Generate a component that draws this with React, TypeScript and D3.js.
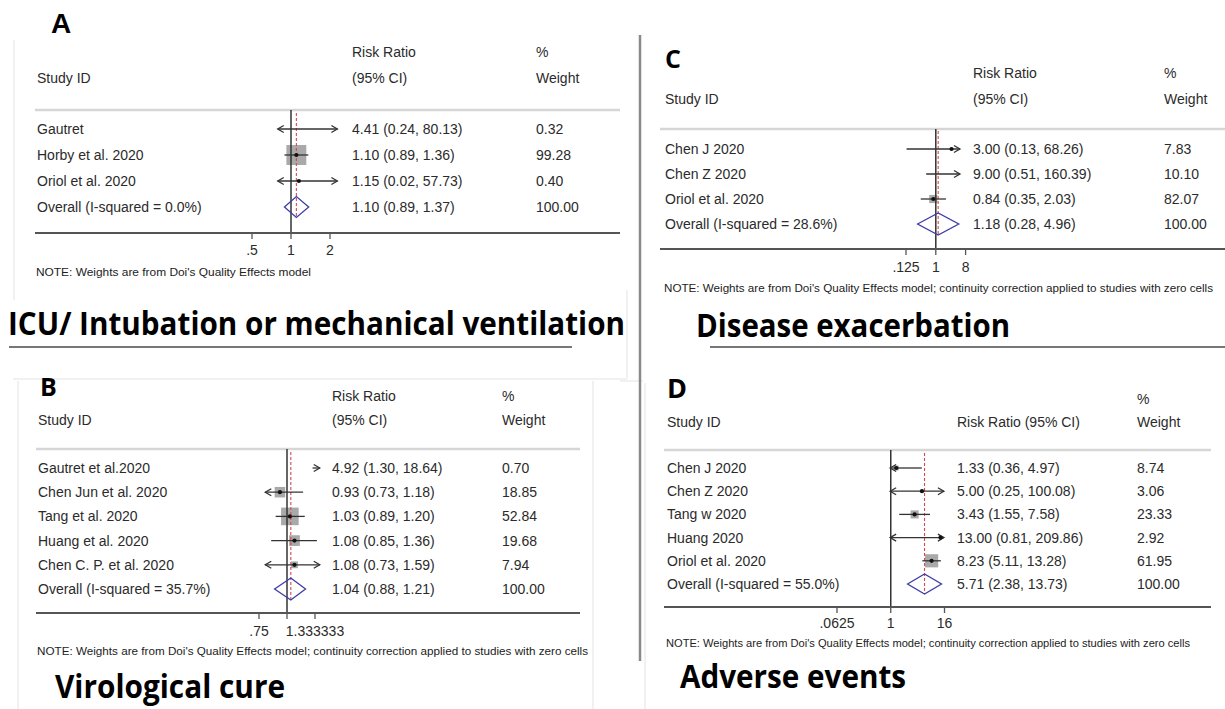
import React from "react";
import * as d3 from "d3";

// ---------- Panel A : ICU / intubation ----------
const studiesA = ["Gautret", "Horby et al. 2020", "Oriol et al. 2020"];
const rrA = [4.41, 1.1, 1.15];
const lowA = [0.24, 0.89, 0.02];
const highA = [80.13, 1.36, 57.73];
const weightA = [0.32, 99.28, 0.4];
const overallA = [1.1, 0.89, 1.37];
const overallLabelA = "Overall (I-squared = 0.0%)";
const ticksA = [0.5, 1, 2];
const tickLabelsA = [".5", "1", "2"];
const clipA = [0.79, 2.28];

// ---------- Panel B : virological cure ----------
const studiesB = ["Gautret et al.2020", "Chen Jun et al. 2020", "Tang et al. 2020", "Huang et al. 2020", "Chen C. P. et al. 2020"];
const rrB = [4.92, 0.93, 1.03, 1.08, 1.08];
const lowB = [1.3, 0.73, 0.89, 0.85, 0.73];
const highB = [18.64, 1.18, 1.2, 1.36, 1.59];
const weightB = [0.7, 18.85, 52.84, 19.68, 7.94];
const overallB = [1.04, 0.88, 1.21];
const overallLabelB = "Overall (I-squared = 35.7%)";
const ticksB = [0.75, 1, 1.333333];
const tickLabelsB = [".75", "", "1.333333"];
const clipB = [0.8, 1.4];

// ---------- Panel C : disease exacerbation ----------
const studiesC = ["Chen J 2020", "Chen Z 2020", "Oriol et al. 2020"];
const rrC = [3.0, 9.0, 0.84];
const lowC = [0.13, 0.51, 0.35];
const highC = [68.26, 160.39, 2.03];
const weightC = [7.83, 10.1, 82.07];
const overallC = [1.18, 0.28, 4.96];
const overallLabelC = "Overall (I-squared = 28.6%)";
const ticksC = [0.125, 1, 8];
const tickLabelsC = [".125", "1", "8"];
const clipC = [0.11, 5.4];

// ---------- Panel D : adverse events ----------
const studiesD = ["Chen J 2020", "Chen Z 2020", "Tang w 2020", "Huang 2020", "Oriol et al. 2020"];
const rrD = [1.33, 5.0, 3.43, 13.0, 8.23];
const lowD = [0.36, 0.25, 1.55, 0.81, 5.11];
const highD = [4.97, 100.08, 7.58, 209.86, 13.28];
const weightD = [8.74, 3.06, 23.33, 2.92, 61.95];
const overallD = [5.71, 2.38, 13.73];
const overallLabelD = "Overall (I-squared = 55.0%)";
const ticksD = [0.0625, 1, 16];
const tickLabelsD = [".0625", "1", "16"];
const clipD = [0.97, 15.5];

const overallWeight = 100;
const noteShort = "NOTE: Weights are from Doi's Quality Effects model";
const noteLong = "NOTE: Weights are from Doi's Quality Effects model; continuity correction applied to studies with zero cells";

const FONT = "'Liberation Sans', Arial, sans-serif";
const TITLE_FONT = "'Open Sans', 'Noto Sans', sans-serif";
const fmt = d3.format(".2f");

type Layout = {
  labelX: number; valueX: number; weightX: number;
  head1Y: number; head2Y: number; oneLineHeader?: boolean;
  lineX: [number, number]; headLineY: number; axisY: number;
  y0: number; step: number; axisPx: [number, number];
  tickLabelY: number; noteY: number; noteX: number; noteW: number;
  boxK: number; diamondH: number; redTop: number;
};

type Data = {
  studies: string[]; rr: number[]; low: number[]; high: number[]; weight: number[];
  overall: number[]; overallLabel: string; ticks: number[]; tickLabels: string[];
  clip: number[]; note: string;
};

function Forest({ d, L }: { d: Data; L: Layout }) {
  const x = d3.scaleLog().domain([d.ticks[0], d.ticks[d.ticks.length - 1]]).range(L.axisPx);
  const yRow = (i: number) => L.y0 + i * L.step;
  const yOv = yRow(d.studies.length);
  const [c0, c1] = d.clip;
  const txt = { fontFamily: FONT, fontSize: 14, fill: "#2b2b2b" } as const;
  const dia = L.diamondH / 2;
  const arrow = (xe: number, y: number, dir: number) =>
    `M${xe - dir * 6},${y - 3.5} L${xe},${y} L${xe - dir * 6},${y + 3.5}`;

  return (
    <g>
      {L.oneLineHeader ? (
        <>
          <text x={L.weightX} y={L.head1Y} dominantBaseline="central" {...txt}>%</text>
          <text x={L.labelX} y={L.head2Y} dominantBaseline="central" {...txt}>Study ID</text>
          <text x={L.valueX} y={L.head2Y} dominantBaseline="central" {...txt}>Risk Ratio (95% CI)</text>
          <text x={L.weightX} y={L.head2Y} dominantBaseline="central" {...txt}>Weight</text>
        </>
      ) : (
        <>
          <text x={L.valueX} y={L.head1Y} dominantBaseline="central" {...txt}>Risk Ratio</text>
          <text x={L.weightX} y={L.head1Y} dominantBaseline="central" {...txt}>%</text>
          <text x={L.labelX} y={L.head2Y} dominantBaseline="central" {...txt}>Study ID</text>
          <text x={L.valueX} y={L.head2Y} dominantBaseline="central" {...txt}>(95% CI)</text>
          <text x={L.weightX} y={L.head2Y} dominantBaseline="central" {...txt}>Weight</text>
        </>
      )}
      <line x1={L.lineX[0]} x2={L.lineX[1]} y1={L.headLineY} y2={L.headLineY} stroke="#d6d6d6" strokeWidth={2.5} />

      {d.studies.map((s, i) => {
        const v = d.rr[i];
        if (v < c0 || v > c1) return null;
        const side = L.boxK * Math.sqrt(d.weight[i]);
        return <rect key={"b" + i} x={x(v) - side / 2} y={yRow(i) - side / 2} width={side} height={side} fill="#a9a9a9" />;
      })}

      <line x1={x(1)} x2={x(1)} y1={L.headLineY} y2={L.axisY} stroke="#333" strokeWidth={1.5} />
      <line x1={x(d.overall[0])} x2={x(d.overall[0])} y1={L.redTop} y2={yOv + dia} stroke="#d24b4b" strokeWidth={1.1} strokeDasharray="3,2" />

      {d.studies.map((s, i) => {
        const y = yRow(i);
        const lo = Math.max(d.low[i], c0);
        const hi = Math.min(d.high[i], c1);
        const xl = x(lo), xh = x(hi);
        const v = d.rr[i];
        return (
          <g key={"r" + i}>
            <line x1={xl} x2={xh} y1={y} y2={y} stroke="#333" strokeWidth={1.3} />
            {d.low[i] < c0 && <path d={arrow(xl, y, -1)} fill="none" stroke="#333" strokeWidth={1.3} />}
            {d.high[i] > c1 && <path d={arrow(xh, y, 1)} fill="none" stroke="#333" strokeWidth={1.3} />}
            {v >= c0 && v <= c1 && <circle cx={x(v)} cy={y} r={2.1} fill="#111" />}
          </g>
        );
      })}

      <path
        d={`M${x(d.overall[1])},${yOv} L${x(d.overall[0])},${yOv - dia} L${x(d.overall[2])},${yOv} L${x(d.overall[0])},${yOv + dia} Z`}
        fill="none" stroke="#3d3da6" strokeWidth={1.3}
      />

      {d.studies.map((s, i) => (
        <g key={"t" + i}>
          <text x={L.labelX} y={yRow(i)} dominantBaseline="central" {...txt}>{s}</text>
          <text x={L.valueX} y={yRow(i)} dominantBaseline="central" {...txt}>{`${fmt(d.rr[i])} (${fmt(d.low[i])}, ${fmt(d.high[i])})`}</text>
          <text x={L.weightX} y={yRow(i)} dominantBaseline="central" {...txt}>{fmt(d.weight[i])}</text>
        </g>
      ))}
      <text x={L.labelX} y={yOv} dominantBaseline="central" {...txt}>{d.overallLabel}</text>
      <text x={L.valueX} y={yOv} dominantBaseline="central" {...txt}>{`${fmt(d.overall[0])} (${fmt(d.overall[1])}, ${fmt(d.overall[2])})`}</text>
      <text x={L.weightX} y={yOv} dominantBaseline="central" {...txt}>{fmt(overallWeight)}</text>

      <line x1={L.lineX[0]} x2={L.lineX[1]} y1={L.axisY} y2={L.axisY} stroke="#555" strokeWidth={2} />
      {d.ticks.map((t, i) => (
        <g key={"k" + i}>
          <line x1={x(t)} x2={x(t)} y1={L.axisY} y2={L.axisY + 6} stroke="#555" strokeWidth={1.3} />
          {d.tickLabels[i] && (
            <text x={x(t)} y={L.tickLabelY} textAnchor="middle" dominantBaseline="central" {...txt}>{d.tickLabels[i]}</text>
          )}
        </g>
      ))}
      <text x={L.noteX} y={L.noteY} dominantBaseline="central" fontFamily={FONT} fontSize={10} fill="#222"
        textLength={L.noteW} lengthAdjust="spacingAndGlyphs">{d.note}</text>
    </g>
  );
}

const dataA: Data = { studies: studiesA, rr: rrA, low: lowA, high: highA, weight: weightA, overall: overallA, overallLabel: overallLabelA, ticks: ticksA, tickLabels: tickLabelsA, clip: clipA, note: noteShort };
const dataB: Data = { studies: studiesB, rr: rrB, low: lowB, high: highB, weight: weightB, overall: overallB, overallLabel: overallLabelB, ticks: ticksB, tickLabels: tickLabelsB, clip: clipB, note: noteLong };
const dataC: Data = { studies: studiesC, rr: rrC, low: lowC, high: highC, weight: weightC, overall: overallC, overallLabel: overallLabelC, ticks: ticksC, tickLabels: tickLabelsC, clip: clipC, note: noteLong };
const dataD: Data = { studies: studiesD, rr: rrD, low: lowD, high: highD, weight: weightD, overall: overallD, overallLabel: overallLabelD, ticks: ticksD, tickLabels: tickLabelsD, clip: clipD, note: noteLong };

const layoutA: Layout = {
  labelX: 37, valueX: 352, weightX: 536, head1Y: 52, head2Y: 78,
  lineX: [35, 620], headLineY: 110, axisY: 233, y0: 129, step: 26, axisPx: [252, 330],
  tickLabelY: 250, noteY: 272, noteX: 36, noteW: 275, boxK: 2.0, diamondH: 21, redTop: 113,
};
const layoutB: Layout = {
  labelX: 38, valueX: 332, weightX: 502, head1Y: 396, head2Y: 420,
  lineX: [36, 580], headLineY: 449, axisY: 613, y0: 468, step: 24.2, axisPx: [259, 315],
  tickLabelY: 631, noteY: 651, noteX: 37, noteW: 551, boxK: 2.42, diamondH: 22, redTop: 452,
};
const layoutC: Layout = {
  labelX: 665, valueX: 973, weightX: 1164, head1Y: 73, head2Y: 99,
  lineX: [660, 1225], headLineY: 129, axisY: 249, y0: 149, step: 25, axisPx: [906, 965.6],
  tickLabelY: 267, noteY: 288, noteX: 664, noteW: 549, boxK: 0.9, diamondH: 22, redTop: 131,
};
const layoutD: Layout = {
  labelX: 667, valueX: 957, weightX: 1137, head1Y: 399, head2Y: 422, oneLineHeader: true,
  lineX: [664, 1211], headLineY: 450, axisY: 607, y0: 468, step: 23.2, axisPx: [837, 944.5],
  tickLabelY: 623, noteY: 643, noteX: 666, noteW: 524, boxK: 1.67, diamondH: 20, redTop: 453,
};

export default function App() {
  const faint = "#ededed";
  return (
    <div style={{ position: "absolute", left: 0, top: 0 }}>
      <svg width={1225} height={709} style={{ display: "block", background: "#fff" }}>
        <line x1={14} x2={14} y1={40} y2={300} stroke={faint} strokeWidth={1.5} />
        <line x1={13} x2={627} y1={379} y2={379} stroke={faint} strokeWidth={1.5} />
        <line x1={627} x2={627} y1={290} y2={379} stroke={faint} strokeWidth={1.5} />
        <line x1={18} x2={18} y1={381} y2={709} stroke={faint} strokeWidth={1.5} />
        <line x1={593} x2={593} y1={381} y2={709} stroke={faint} strokeWidth={1.5} />
        <line x1={645} x2={645} y1={383} y2={709} stroke={faint} strokeWidth={1.5} />
        <line x1={620} x2={643} y1={381} y2={381} stroke={faint} strokeWidth={1.5} />

        <line x1={640} x2={640} y1={35} y2={661} stroke="#8a8a8a" strokeWidth={2.5} />

        <Forest d={dataA} L={layoutA} />
        <Forest d={dataB} L={layoutB} />
        <Forest d={dataC} L={layoutC} />
        <Forest d={dataD} L={layoutD} />

        <text x={51} y={33} fontFamily={FONT} fontWeight="bold" fontSize={28} fill="#000">A</text>
        <text x={40} y={396} fontFamily={TITLE_FONT} fontWeight="bold" fontSize={25} fill="#000">B</text>
        <text x={665} y={68} fontFamily={TITLE_FONT} fontWeight="bold" fontSize={25} fill="#000">C</text>
        <text x={667} y={398} fontFamily={TITLE_FONT} fontWeight="bold" fontSize={27} fill="#000">D</text>

        <text x={8} y={335} fontFamily={TITLE_FONT} fontWeight="bold" fontSize={32} fill="#000" textLength={617} lengthAdjust="spacingAndGlyphs">ICU/ Intubation or mechanical ventilation</text>
        <line x1={9} x2={572} y1={347} y2={347} stroke="#777" strokeWidth={2} />
        <text x={696} y={337} fontFamily={TITLE_FONT} fontWeight="bold" fontSize={32} fill="#000" textLength={314} lengthAdjust="spacingAndGlyphs">Disease exacerbation</text>
        <line x1={710} x2={1225} y1={347} y2={347} stroke="#777" strokeWidth={2} />
        <text x={55} y={698} fontFamily={TITLE_FONT} fontWeight="bold" fontSize={32} fill="#000" textLength={230} lengthAdjust="spacingAndGlyphs">Virological cure</text>
        <text x={680} y={688} fontFamily={TITLE_FONT} fontWeight="bold" fontSize={32} fill="#000" textLength={226} lengthAdjust="spacingAndGlyphs">Adverse events</text>
      </svg>
    </div>
  );
}
